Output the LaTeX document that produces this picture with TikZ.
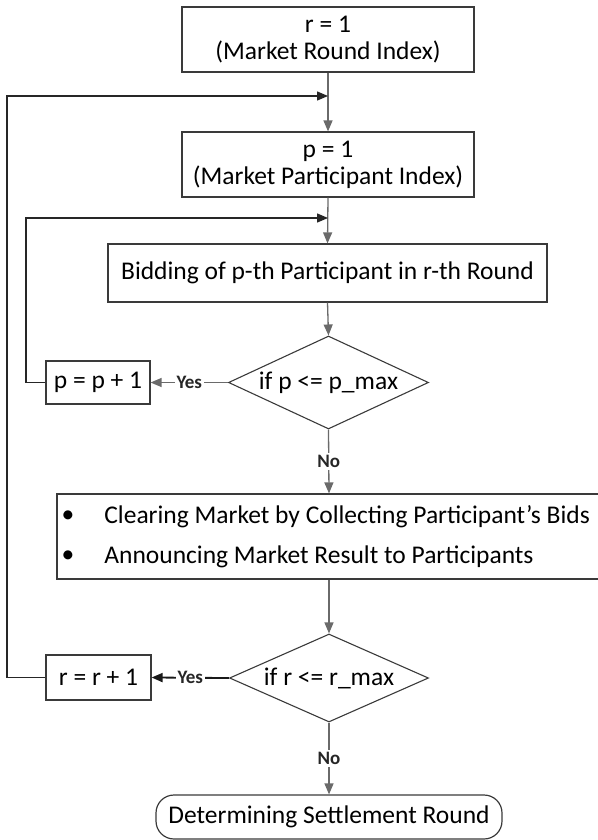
\documentclass[tikz,border=0pt]{standalone}
\usepackage{fontspec}
\setmainfont{Carlito}
\usetikzlibrary{shapes.geometric,arrows.meta}
\definecolor{boxc}{HTML}{3A3A3A}
\definecolor{linec}{HTML}{6A6A6A}
\begin{document}
\begin{tikzpicture}[x=0.5pt,y=-0.5pt,
  box/.style={draw=boxc,line width=0.6pt,rectangle,inner sep=0pt,align=center,
    font=\fontsize{12.75}{13.5}\selectfont},
  dec/.style={draw=boxc,line width=0.55pt,diamond,aspect=2.15,inner sep=0pt,
    font=\fontsize{12.75}{13.5}\selectfont},
  termbox/.style={box,rounded corners=9pt},
  conn/.style={draw=linec,line width=0.65pt,-{Triangle[length=5.5pt,width=4.5pt]}},
  loopline/.style={conn,draw=black!85},
  lbl/.style={font=\fontsize{9.5}{10}\selectfont\bfseries,fill=white,inner sep=1pt,text=black!85},
  txt/.style={inner sep=0pt,font=\fontsize{12.75}{13.5}\selectfont,anchor=west},
  bul/.style={inner sep=0pt,font=\fontsize{12.75}{13.5}\selectfont}
]
\useasboundingbox (0,0) rectangle (598,840);
\clip (0,0) rectangle (598,840);

% nodes
\node[box,minimum width=146pt,minimum height=32.5pt] (b1) at (328,39.5) {r = 1\\(Market Round Index)};
\node[box,minimum width=146pt,minimum height=32.5pt] (b2) at (328,164.5) {p = 1\\(Market Participant Index)};
\node[box,minimum width=219.5pt,minimum height=29pt] (bid) at (327.5,273) {Bidding of p-th Participant in r-th Round};
\node[dec,minimum width=100pt,minimum height=46.5pt] (dp) at (328.5,382.5) {if p <= p\_max};
\node[box,minimum width=52pt,minimum height=21.5pt] (pp) at (98,382.5) {p = p + 1};
\node[box,minimum width=272pt,minimum height=42.5pt] (b3) at (329,536.5) {};
\node[bul] (bu1) at (68,517) {\textbullet};
\node[bul] (bu2) at (68,557) {\textbullet};
\node[txt] (t1) at (104,517) {Clearing Market by Collecting Participant’s Bids};
\node[txt] (t2) at (104,557) {Announcing Market Result to Participants};
\node[dec,minimum width=99.5pt,minimum height=44pt] (dr) at (329,678) {if r <= r\_max};
\node[box,minimum width=52.5pt,minimum height=22.5pt] (rr) at (98.5,677.5) {r = r + 1};
\node[termbox,minimum width=173pt,minimum height=22pt] (term) at (329,817) {Determining Settlement Round};

% junction coordinates
\coordinate (j1) at (328,96);
\coordinate (o1) at (7,96);
\coordinate (j2) at (328,218);
\coordinate (o2) at (26,218);

% connectors
\draw[conn] (b1.south) -- (b2.north);
\draw[conn] (b2.south) -- (bid.north);
\draw[conn] (bid.south) -- (dp.north);
\draw[conn] (dp.west) -- node[lbl] (ly1) {Yes} (pp.east);
\draw[conn] (dp.south) -- node[lbl] (ln1) {No} (b3.north);
\draw[conn] (b3.south) -- (dr.north);
\draw[conn,draw=black!90,line width=0.9pt] (dr.west) -- node[lbl] (ly2) {Yes} (rr.east);
\draw[conn] (dr.south) -- node[lbl] (ln2) {No} (term.north);

% loops
\draw[loopline] (pp.west) -| (o2) -- (j2);
\draw[loopline] (rr.west) -| (o1) -- (j1);
\end{tikzpicture}
\end{document}
